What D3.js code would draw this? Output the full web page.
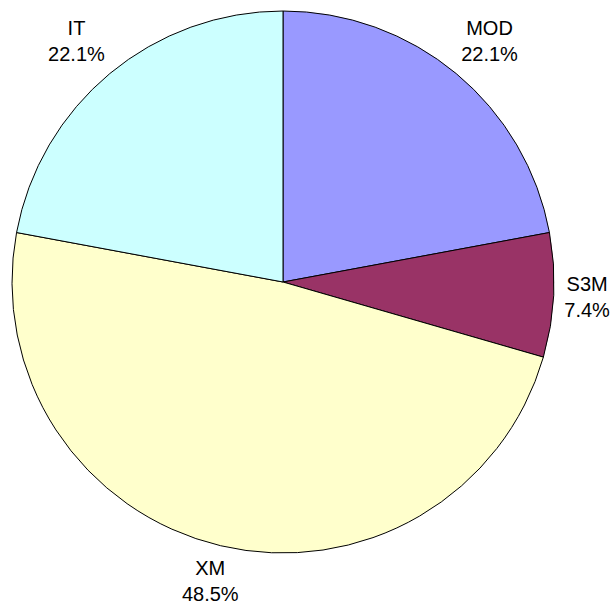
<!DOCTYPE html>
<html>
  <head>
    <meta charset="utf-8">
    <script src="https://cdn.jsdelivr.net/npm/d3@7/dist/d3.min.js"></script>
    <style>
      body { margin: 0; background: white; }
      text { font-family: "Liberation Sans", Arial, sans-serif; font-size: 20px; fill: black; }
      path { stroke: black; stroke-width: 1px; }
    </style>
  </head>
  <body>
    <svg id="chart" width="613" height="606"></svg>
    <script>
      var categories = ["MOD", "S3M", "XM", "IT"];
      var shares = [22.1, 7.4, 48.5, 22.1];
      var sliceColors = ["#9999ff", "#993366", "#ffffcc", "#ccffff"];

      var width = 613, height = 606;
      var cx = 283, cy = 282, radius = 271, gap = 6;

      var svg = d3.select("#chart");
      var g = svg.append("g").attr("transform", "translate(" + cx + "," + cy + ")");

      var pie = d3.pie().sort(null).value(d => d);
      var arc = d3.arc().innerRadius(0).outerRadius(radius);
      var arcs = pie(shares);

      g.selectAll("path")
        .data(arcs)
        .enter()
        .append("path")
        .attr("d", arc)
        .style("fill", (d, i) => sliceColors[i]);

      var labels = g.selectAll("text.lbl")
        .data(arcs)
        .enter()
        .append("text")
        .attr("class", "lbl")
        .attr("text-anchor", "middle");

      labels.append("tspan").attr("x", 0).attr("dy", 0).text((d, i) => categories[i]);
      labels.append("tspan").attr("x", 0).attr("dy", 26).text(d => d.data.toFixed(1) + "%");

      // put each label box just outside the rim, along the slice's middle angle,
      // but keep it inside the picture
      labels.each(function(d) {
        var box = this.getBBox();
        var a = (d.startAngle + d.endAngle) / 2;
        var s = Math.sin(a), c = Math.cos(a);
        var reach = radius + gap + Math.abs(s) * box.width / 2 + Math.abs(c) * box.height / 2;
        var mx = s * reach * 1.03, my = -c * reach;
        var maxX = width - 3 - cx - box.width / 2;
        var minX = 3 - cx + box.width / 2;
        mx = Math.max(minX, Math.min(maxX, mx));
        var boxMidY = box.y + box.height / 2;
        d3.select(this).attr("transform", "translate(" + mx + "," + (my - boxMidY) + ")");
      });
    </script>
  </body>
</html>
